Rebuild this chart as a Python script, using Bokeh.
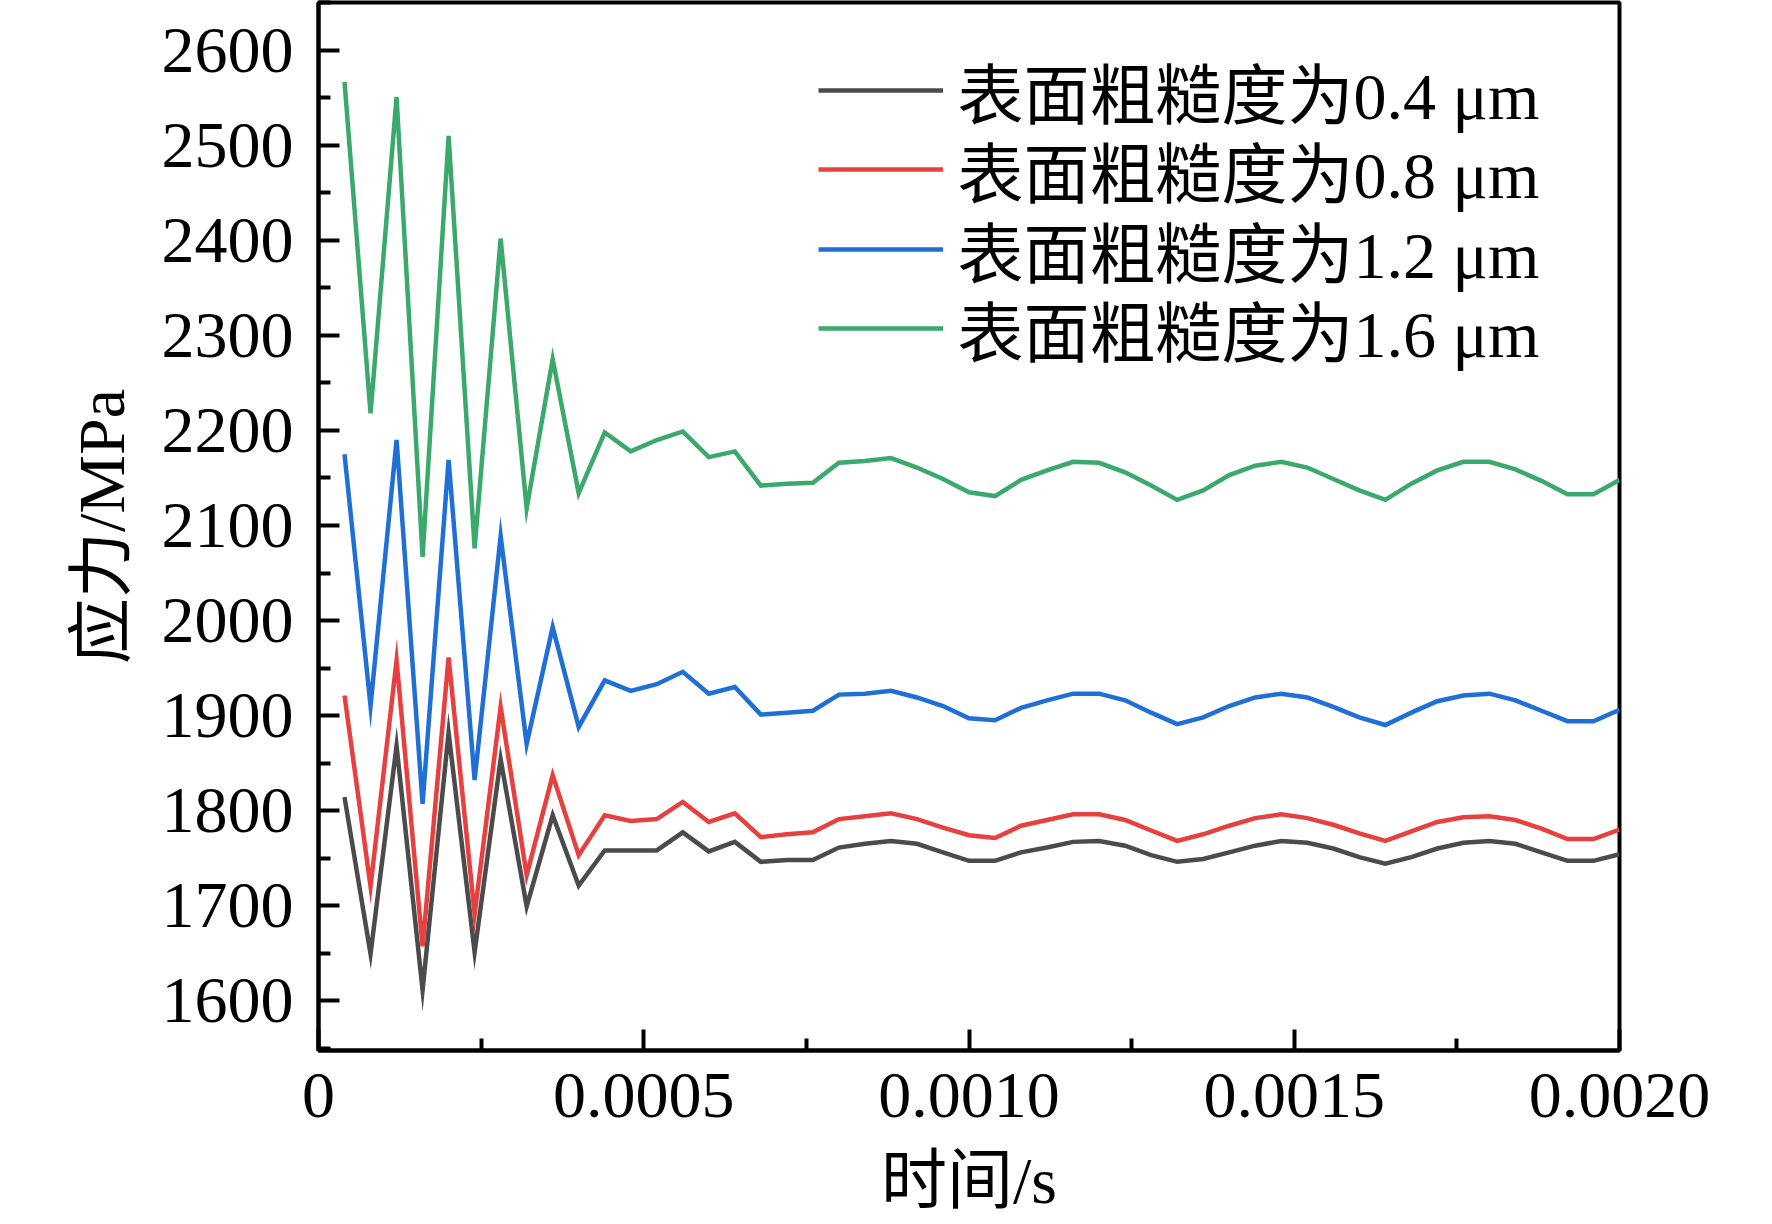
from bokeh.plotting import figure
from bokeh.models import FixedTicker, Range1d, Legend, LegendItem, ColumnDataSource
from bokeh.embed import file_html
from bokeh.resources import INLINE

# ---- data ----
time_s = [0.00004, 0.00008, 0.00012, 0.00016, 0.00020, 0.00024, 0.00028, 0.00032, 0.00036, 0.00040,
          0.00044, 0.00048, 0.00052, 0.00056, 0.00060, 0.00064, 0.00068, 0.00072, 0.00076, 0.00080,
          0.00084, 0.00088, 0.00092, 0.00096, 0.00100, 0.00104, 0.00108, 0.00112, 0.00116, 0.00120,
          0.00124, 0.00128, 0.00132, 0.00136, 0.00140, 0.00144, 0.00148, 0.00152, 0.00156, 0.00160,
          0.00164, 0.00168, 0.00172, 0.00176, 0.00180, 0.00184, 0.00188, 0.00192, 0.00196, 0.00200]

stress_04 = [1814, 1649, 1868, 1611, 1882, 1651, 1854, 1699, 1795, 1721,
             1758, 1758, 1758, 1777, 1757, 1767, 1746, 1748, 1748, 1761,
             1765, 1768, 1765, 1756, 1747, 1747, 1756, 1761, 1767, 1768,
             1763, 1753, 1746, 1749, 1756, 1763, 1768, 1766, 1760, 1751,
             1744, 1751, 1760, 1766, 1768, 1765, 1756, 1747, 1747, 1754]

stress_08 = [1921, 1720, 1958, 1657, 1961, 1691, 1909, 1732, 1837, 1753,
             1795, 1789, 1791, 1809, 1788, 1797, 1772, 1775, 1777, 1791,
             1794, 1797, 1791, 1782, 1774, 1771, 1784, 1790, 1796, 1796,
             1790, 1779, 1768, 1775, 1784, 1792, 1796, 1792, 1785, 1776,
             1768, 1778, 1788, 1793, 1794, 1790, 1781, 1770, 1770, 1780]

stress_12 = [2175, 1910, 2190, 1807, 2169, 1832, 2089, 1870, 1993, 1888,
             1937, 1926, 1933, 1946, 1923, 1930, 1901, 1903, 1905, 1922,
             1923, 1926, 1919, 1910, 1897, 1895, 1908, 1916, 1923, 1923,
             1916, 1903, 1891, 1898, 1910, 1919, 1923, 1919, 1909, 1898,
             1890, 1903, 1915, 1921, 1923, 1916, 1905, 1894, 1894, 1906]

stress_16 = [2567, 2218, 2551, 2067, 2510, 2076, 2402, 2118, 2275, 2134,
             2198, 2178, 2190, 2199, 2172, 2178, 2142, 2144, 2145, 2166,
             2168, 2171, 2161, 2149, 2135, 2131, 2148, 2158, 2167, 2166,
             2156, 2142, 2127, 2137, 2153, 2163, 2167, 2161, 2149, 2137,
             2127, 2144, 2158, 2167, 2167, 2159, 2147, 2133, 2133, 2148]

series_labels = ["表面粗糙度为0.4 μm", "表面粗糙度为0.8 μm", "表面粗糙度为1.2 μm", "表面粗糙度为1.6 μm"]
series_colors = ["#4b4b4b", "#e8403f", "#1f6fd6", "#3ba96b"]

x_ticks = [0, 0.0005, 0.0010, 0.0015, 0.0020]
x_tick_labels = ["0", "0.0005", "0.0010", "0.0015", "0.0020"]
x_minor = [0.00025, 0.00075, 0.00125, 0.00175]
y_ticks = [1600, 1700, 1800, 1900, 2000, 2100, 2200, 2300, 2400, 2500, 2600]
y_minor = [1550, 1650, 1750, 1850, 1950, 2050, 2150, 2250, 2350, 2450, 2550, 2650]

x_title = "时间/s"
y_title = "应力/MPa"

FONT = "Liberation Serif, Noto Sans CJK SC"
FS = "66px"

W, H = 1756, 1220
FRAME_L, FRAME_R, FRAME_T, FRAME_B = 318, 1619, 2, 1050

p = figure(width=W, height=H, output_backend="svg", toolbar_location=None,
           x_range=Range1d(0, 0.002), y_range=Range1d(1547.4, 2650.5),
           min_border_left=FRAME_L, min_border_right=W - FRAME_R,
           min_border_top=FRAME_T, min_border_bottom=H - FRAME_B,
           background_fill_color="white", border_fill_color="white")

p.xgrid.visible = False
p.ygrid.visible = False
p.outline_line_color = "black"
p.outline_line_width = 4

src = ColumnDataSource(dict(t=time_s, a=stress_04, b=stress_08, c=stress_12, d=stress_16))
renderers = []
for col, color in zip(["a", "b", "c", "d"], series_colors):
    r = p.line("t", col, source=src, line_color=color, line_width=4.5, line_join="miter")
    renderers.append(r)

# one legend per row so the row pitch matches the reference
frame_h = FRAME_B - FRAME_T
ROW_H = 110
for i, (lab, r) in enumerate(zip(series_labels, renderers)):
    center = 87.5 + 79.5 * i
    bottom = frame_h - (center + ROW_H / 2)
    lg = Legend(items=[LegendItem(label=lab, renderers=[r])],
                location=(499.5, bottom), padding=0, margin=0, spacing=0,
                glyph_width=125, glyph_height=ROW_H, label_height=ROW_H, label_standoff=15,
                label_text_font=FONT, label_text_font_size=FS, label_text_color="black",
                border_line_color=None, background_fill_alpha=0)
    p.add_layout(lg)

xa = p.xaxis[0]
xa.ticker = FixedTicker(ticks=x_ticks, minor_ticks=x_minor)
xa.major_label_overrides = {t: l for t, l in zip(x_ticks, x_tick_labels)}
ya = p.yaxis[0]
ya.ticker = FixedTicker(ticks=y_ticks, minor_ticks=y_minor)

for ax in (xa, ya):
    ax.axis_line_width = 4
    ax.axis_line_color = "black"
    ax.major_tick_in = 21
    ax.major_tick_out = 0
    ax.minor_tick_in = 12
    ax.minor_tick_out = 0
    ax.major_tick_line_width = 4
    ax.minor_tick_line_width = 4
    ax.major_tick_line_color = "black"
    ax.minor_tick_line_color = "black"
    ax.major_label_text_font = FONT
    ax.major_label_text_font_size = FS
    ax.major_label_text_color = "black"
    ax.axis_label_text_font = FONT
    ax.axis_label_text_font_size = FS
    ax.axis_label_text_font_style = "normal"
    ax.axis_label_text_color = "black"

xa.axis_label = x_title
ya.axis_label = y_title
xa.major_label_standoff = 23
ya.major_label_standoff = 25
xa.axis_label_standoff = 24
ya.axis_label_standoff = 21

open("out.html", "w").write(file_html(p, INLINE))
